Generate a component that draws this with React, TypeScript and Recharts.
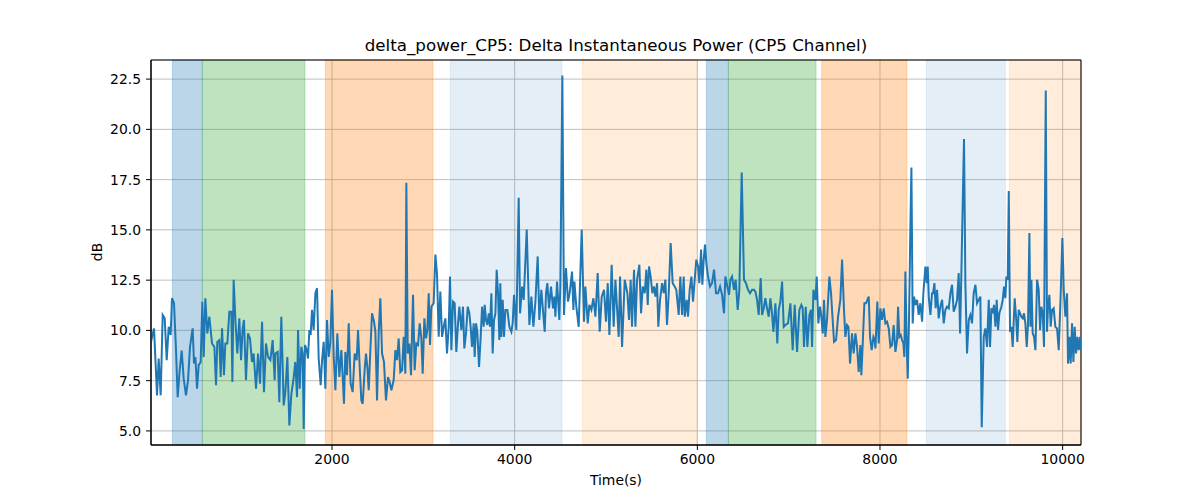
import { LineChart, Line, XAxis, YAxis, CartesianGrid, ReferenceArea } from "recharts";

// delta power trace in time windows: [time (s), dB]
const trace0to1400: [number, number][] = [
  [18, 9.43], [51, 10.1], [84, 6.77], [102, 8.6], [124, 6.77], [146, 10.77], [168, 10.6], [190, 8.52],
  [212, 10.18], [233, 9.77], [248, 11.6], [270, 11.35], [292, 9.0], [310, 6.68], [332, 8.0], [354, 9.0],
  [376, 7.6], [401, 6.77], [423, 7.5], [445, 9.18], [474, 10.1], [489, 8.35], [504, 8.68], [522, 7.1],
  [540, 8.27], [562, 8.43], [580, 11.43], [595, 8.68], [613, 11.6], [635, 9.85], [657, 10.68], [686, 9.35],
  [712, 9.18], [730, 7.27], [744, 9.43], [766, 9.52], [781, 7.68], [796, 10.1], [817, 7.77], [832, 9.35],
  [854, 9.35], [876, 10.93], [898, 10.93], [909, 7.43], [923, 12.52], [942, 10.52], [963, 8.85], [985, 10.6],
  [1004, 8.52], [1022, 10.1], [1036, 10.52], [1058, 7.52], [1080, 9.85], [1102, 9.6], [1124, 8.43], [1142, 8.85],
  [1168, 7.1], [1190, 8.85], [1212, 7.35], [1234, 10.43], [1255, 6.93], [1277, 9.35], [1299, 8.68], [1325, 8.52],
  [1350, 9.52], [1372, 7.52],
];

const trace1400to2700: [number, number][] = [
  [1380, 8.85], [1405, 8.93], [1423, 6.43], [1445, 10.68], [1471, 6.27], [1489, 6.93], [1511, 8.68], [1533, 5.27],
  [1555, 6.85], [1577, 7.52], [1598, 8.43], [1617, 6.68], [1628, 10.02], [1646, 7.1], [1664, 9.18], [1679, 8.85],
  [1690, 5.1], [1704, 9.27], [1723, 9.02], [1737, 8.6], [1752, 10.02], [1766, 9.77], [1781, 11.02], [1799, 10.02],
  [1818, 11.85], [1836, 12.1], [1854, 8.6], [1876, 7.27], [1891, 8.52], [1909, 9.43], [1927, 7.1], [1945, 10.52],
  [1964, 8.68], [1982, 9.43], [2000, 12.02], [2018, 8.77], [2037, 7.02], [2058, 9.85], [2080, 7.68], [2102, 9.02],
  [2117, 7.68], [2131, 6.35], [2146, 8.93], [2164, 7.77], [2183, 10.35], [2204, 7.35], [2226, 6.93], [2248, 8.85],
  [2270, 8.52], [2285, 10.02], [2303, 8.18], [2321, 6.52], [2336, 6.35], [2358, 8.1], [2372, 8.85], [2387, 8.18],
  [2402, 7.02], [2423, 9.35], [2438, 10.85], [2460, 10.43], [2475, 9.93], [2493, 6.52], [2511, 9.85], [2529, 11.6],
  [2548, 8.85], [2569, 8.43], [2591, 6.52], [2613, 7.68], [2631, 7.43], [2650, 7.02], [2675, 7.52],
];

const trace2700to4000: [number, number][] = [
  [2694, 9.02], [2712, 8.52], [2730, 9.6], [2748, 7.93], [2767, 8.02], [2785, 9.68], [2803, 7.85], [2814, 17.35],
  [2829, 8.85], [2847, 9.35], [2865, 7.77], [2887, 11.77], [2905, 8.02], [2923, 9.35], [2942, 9.27], [2960, 10.35],
  [2978, 9.6], [2993, 7.85], [3011, 10.6], [3029, 9.6], [3044, 10.02], [3059, 11.85], [3073, 9.27], [3088, 11.18],
  [3113, 11.35], [3132, 13.77], [3150, 12.77], [3168, 9.68], [3186, 11.93], [3205, 9.68], [3223, 10.18], [3241, 10.6],
  [3259, 8.85], [3278, 10.18], [3292, 12.68], [3307, 9.02], [3325, 11.43], [3343, 11.35], [3361, 8.93], [3380, 10.35],
  [3394, 11.18], [3416, 10.02], [3434, 11.18], [3449, 9.1], [3467, 9.85], [3486, 11.18], [3504, 10.85], [3518, 10.18],
  [3533, 9.18], [3551, 10.35], [3562, 8.68], [3577, 10.35], [3591, 9.93], [3610, 8.18], [3628, 9.68], [3643, 11.18],
  [3661, 10.18], [3672, 11.27], [3686, 10.52], [3701, 10.27], [3716, 10.85], [3730, 10.18], [3745, 11.85], [3759, 8.85],
  [3774, 10.52], [3789, 10.85], [3803, 13.02], [3818, 11.85], [3832, 9.52], [3843, 12.35], [3854, 9.68], [3869, 11.52],
  [3883, 9.68], [3898, 11.02], [3920, 11.02], [3942, 10.18], [3964, 9.93], [3978, 10.35], [3993, 11.77],
];

const trace4000to5300: [number, number][] = [
  [4018, 10.02], [4044, 16.6], [4059, 10.85], [4081, 12.18], [4099, 11.52], [4132, 15.02], [4161, 10.27], [4183, 11.68],
  [4205, 10.18], [4227, 11.43], [4252, 13.68], [4270, 10.52], [4292, 12.02], [4329, 9.93], [4343, 11.85], [4358, 12.35],
  [4376, 11.1], [4398, 12.18], [4420, 11.1], [4435, 11.68], [4446, 10.68], [4464, 12.43], [4489, 10.52], [4500, 12.18],
  [4522, 22.68], [4540, 10.77], [4562, 13.1], [4584, 11.43], [4602, 11.85], [4628, 12.93], [4643, 11.02], [4654, 12.43],
  [4675, 11.18], [4701, 10.18], [4734, 15.02], [4759, 10.43], [4774, 12.18], [4800, 10.35], [4818, 11.27], [4840, 11.02],
  [4862, 11.6], [4884, 10.68], [4909, 12.85], [4931, 9.93], [4953, 11.68], [4978, 12.02], [5000, 10.43], [5019, 12.35],
  [5037, 9.77], [5062, 13.27], [5084, 10.18], [5103, 12.52], [5139, 9.68], [5154, 12.68], [5176, 9.18], [5205, 12.52],
  [5234, 11.85], [5252, 10.52], [5270, 12.52], [5285, 10.18], [5307, 13.02],
];

const trace5300to6600: [number, number][] = [
  [5322, 10.18], [5340, 12.52], [5365, 13.27], [5384, 10.85], [5402, 12.18], [5424, 11.85], [5442, 13.02], [5457, 11.27],
  [5471, 13.18], [5489, 12.68], [5508, 11.85], [5526, 12.18], [5541, 11.68], [5559, 12.35], [5573, 10.18], [5592, 11.52],
  [5614, 12.35], [5632, 11.85], [5650, 12.52], [5668, 10.27], [5687, 11.85], [5708, 14.35], [5730, 12.35], [5752, 12.18],
  [5770, 12.02], [5796, 10.77], [5814, 12.68], [5833, 10.77], [5851, 12.68], [5862, 10.68], [5884, 11.52], [5898, 10.68],
  [5916, 12.02], [5935, 12.68], [5953, 11.43], [5971, 12.52], [5989, 13.52], [6008, 13.18], [6022, 12.35], [6041, 14.02],
  [6055, 12.27], [6070, 13.52], [6084, 14.27], [6099, 13.35], [6117, 12.68], [6139, 12.18], [6161, 12.35], [6183, 13.02],
  [6205, 11.85], [6227, 11.85], [6249, 12.18], [6271, 11.77], [6292, 10.85], [6307, 12.68], [6329, 12.18], [6347, 11.77],
  [6362, 12.52], [6380, 12.68], [6402, 12.02], [6420, 12.52], [6442, 11.02], [6460, 12.02], [6486, 17.85], [6511, 12.52],
  [6533, 12.35], [6555, 12.02], [6577, 11.85], [6599, 12.02], [6621, 12.02],
];

const trace6600to7950: [number, number][] = [
  [6636, 11.93], [6654, 11.52], [6672, 10.77], [6694, 12.6], [6709, 10.77], [6727, 11.1], [6745, 11.6], [6763, 11.1],
  [6782, 10.68], [6800, 11.6], [6818, 10.85], [6833, 9.93], [6855, 11.35], [6876, 9.35], [6891, 11.02], [6909, 11.43],
  [6928, 12.43], [6946, 10.18], [6964, 10.27], [6993, 10.35], [7019, 11.35], [7044, 9.02], [7066, 11.27], [7092, 8.93],
  [7117, 11.02], [7139, 11.27], [7154, 11.1], [7168, 9.18], [7187, 11.18], [7205, 9.18], [7227, 10.77], [7245, 11.02],
  [7256, 9.18], [7271, 12.02], [7293, 11.52], [7307, 12.68], [7325, 10.35], [7344, 11.18], [7358, 10.68], [7373, 9.85],
  [7387, 11.52], [7402, 9.68], [7420, 10.52], [7446, 12.68], [7464, 11.85], [7482, 10.52], [7497, 9.43], [7519, 9.52],
  [7541, 10.68], [7566, 11.52], [7585, 13.52], [7606, 11.02], [7621, 9.68], [7639, 10.27], [7654, 10.18], [7672, 8.35],
  [7694, 9.85], [7712, 8.85], [7731, 9.85], [7749, 9.18], [7767, 7.93], [7785, 9.27], [7796, 7.77], [7811, 9.35],
  [7829, 11.35], [7847, 11.35], [7862, 11.52], [7877, 11.68], [7891, 9.68], [7909, 9.02], [7928, 9.68], [7942, 9.52],
];

const trace7950to9250: [number, number][] = [
  [7950, 9.1], [7971, 11.43], [7986, 9.35], [8004, 11.1], [8023, 10.52], [8041, 11.1], [8059, 10.35], [8077, 10.43],
  [8096, 10.1], [8114, 9.18], [8132, 9.27], [8150, 10.27], [8169, 8.93], [8187, 9.52], [8198, 11.18], [8212, 9.68],
  [8227, 9.77], [8242, 9.52], [8256, 9.35], [8267, 8.68], [8278, 12.93], [8293, 9.18], [8304, 7.6], [8318, 10.6],
  [8333, 15.18], [8344, 18.1], [8358, 10.35], [8373, 11.68], [8388, 11.27], [8406, 11.52], [8424, 10.77], [8442, 11.35],
  [8461, 10.43], [8475, 11.85], [8497, 13.18], [8512, 12.35], [8523, 13.18], [8534, 11.68], [8552, 10.77], [8570, 11.85],
  [8581, 11.85], [8596, 12.35], [8610, 11.1], [8625, 12.02], [8643, 10.6], [8661, 11.18], [8680, 11.52], [8698, 10.35],
  [8716, 11.02], [8734, 11.18], [8753, 11.1], [8771, 11.85], [8789, 12.27], [8807, 10.93], [8826, 11.18], [8844, 11.52],
  [8862, 12.85], [8877, 9.85], [8891, 12.85], [8906, 16.35], [8920, 19.52], [8935, 12.35], [8953, 8.85], [8972, 10.52],
  [8990, 10.77], [9008, 10.35], [9026, 11.85], [9045, 12.27], [9063, 11.35], [9081, 11.52], [9099, 11.68], [9114, 5.18],
  [9136, 9.68], [9154, 10.1], [9172, 9.18], [9191, 11.52], [9205, 9.18], [9220, 11.1], [9234, 10.85], [9249, 11.27],
];

const trace9250to10201: [number, number][] = [
  [9264, 10.18], [9278, 11.52], [9293, 10.02], [9307, 10.85], [9329, 11.18], [9344, 11.52], [9358, 12.18], [9373, 11.6],
  [9384, 12.68], [9399, 12.52], [9410, 16.93], [9424, 9.93], [9439, 10.18], [9453, 9.18], [9475, 11.6], [9490, 10.68],
  [9504, 9.43], [9519, 11.02], [9534, 10.85], [9548, 10.68], [9563, 10.6], [9577, 10.85], [9592, 10.35], [9607, 9.18],
  [9621, 10.35], [9636, 14.85], [9647, 10.18], [9658, 12.52], [9672, 9.85], [9687, 9.68], [9702, 9.02], [9720, 12.52],
  [9738, 12.02], [9753, 10.02], [9767, 11.18], [9782, 10.85], [9796, 9.18], [9815, 21.93], [9829, 9.93], [9840, 11.18],
  [9855, 11.77], [9869, 10.18], [9884, 11.02], [9902, 11.1], [9920, 10.18], [9939, 10.1], [9957, 9.02], [9979, 11.85],
  [9997, 14.6], [10012, 12.02], [10030, 10.68], [10048, 11.85], [10059, 8.35], [10074, 9.68], [10088, 8.35], [10103, 10.35],
  [10118, 8.43], [10132, 10.18], [10147, 8.85], [10161, 9.68], [10176, 9.02], [10190, 9.68], [10201, 9.02],
];

// shaded phases: [start, end, colour, alpha]
const phases: [number, number, string, number][] = [
  [252, 580, "#1f77b4", 0.3],
  [580, 1704, "#2ca02c", 0.3],
  [1927, 3106, "#ff7f0e", 0.3],
  [3296, 4518, "#1f77b4", 0.12],
  [4741, 5995, "#ff7f0e", 0.15],
  [6099, 6340, "#1f77b4", 0.3],
  [6340, 7300, "#2ca02c", 0.3],
  [7362, 8296, "#ff7f0e", 0.3],
  [8508, 9373, "#1f77b4", 0.12],
  [9417, 10201, "#ff7f0e", 0.15],
];

const xTicks = [2000, 4000, 6000, 8000, 10000];
const yTicks = [5, 7.5, 10, 12.5, 15, 17.5, 20, 22.5];
const xDomain: [number, number] = [18, 10201];
const yDomain: [number, number] = [4.3, 23.45];

const data = [
  ...trace0to1400,
  ...trace1400to2700,
  ...trace2700to4000,
  ...trace4000to5300,
  ...trace5300to6600,
  ...trace6600to7950,
  ...trace7950to9250,
  ...trace9250to10201,
].map(([t, v]) => ({ t, v }));

const font = "'DejaVu Sans', sans-serif";
const tickStyle = { fontSize: 13.9, fill: "#000", fontFamily: font };

export default function App() {
  return (
    <div style={{ position: "fixed", left: 0, top: 0, width: 1200, height: 500, background: "#fff", fontFamily: font }}>
      <div style={{ position: "absolute", left: 151, width: 930, top: 35, textAlign: "center", fontSize: 16.7, color: "#000" }}>
        delta_power_CP5: Delta Instantaneous Power (CP5 Channel)
      </div>
      <div style={{ position: "absolute", left: 151, width: 930, top: 472, textAlign: "center", fontSize: 13.9, color: "#000" }}>
        Time(s)
      </div>
      <div
        style={{
          position: "absolute",
          left: 97,
          top: 252,
          transform: "translate(-50%, -50%) rotate(-90deg)",
          fontSize: 13.9,
          color: "#000",
        }}
      >
        dB
      </div>
      <LineChart width={1200} height={500} data={data} margin={{ top: 60, right: 119, bottom: 25, left: 91 }}>
        {phases.map(([a, b, c, o], i) => (
          <ReferenceArea key={i} x1={a} x2={b} fill={c} fillOpacity={o} stroke={c} strokeOpacity={o} strokeWidth={0.8} />
        ))}
        <CartesianGrid stroke="#b0b0b0" strokeWidth={0.8} />
        <XAxis
          dataKey="t"
          type="number"
          domain={xDomain}
          ticks={xTicks}
          allowDataOverflow
          height={30}
          tickSize={5}
          tickMargin={4}
          tick={tickStyle}
          stroke="#000"
          interval={0}
        />
        <YAxis
          type="number"
          domain={yDomain}
          ticks={yTicks}
          allowDataOverflow
          width={60}
          tickSize={5}
          tickMargin={5}
          tick={tickStyle}
          stroke="#000"
          interval={0}
          tickFormatter={(v: number) => v.toFixed(1)}
        />
        <Line dataKey="v" stroke="#1f77b4" strokeWidth={2} dot={false} isAnimationActive={false} type="linear" />
        <ReferenceArea x1={xDomain[0]} x2={xDomain[1]} y1={yDomain[0]} y2={yDomain[1]} fill="none" stroke="#000" strokeWidth={1} />
      </LineChart>
    </div>
  );
}
